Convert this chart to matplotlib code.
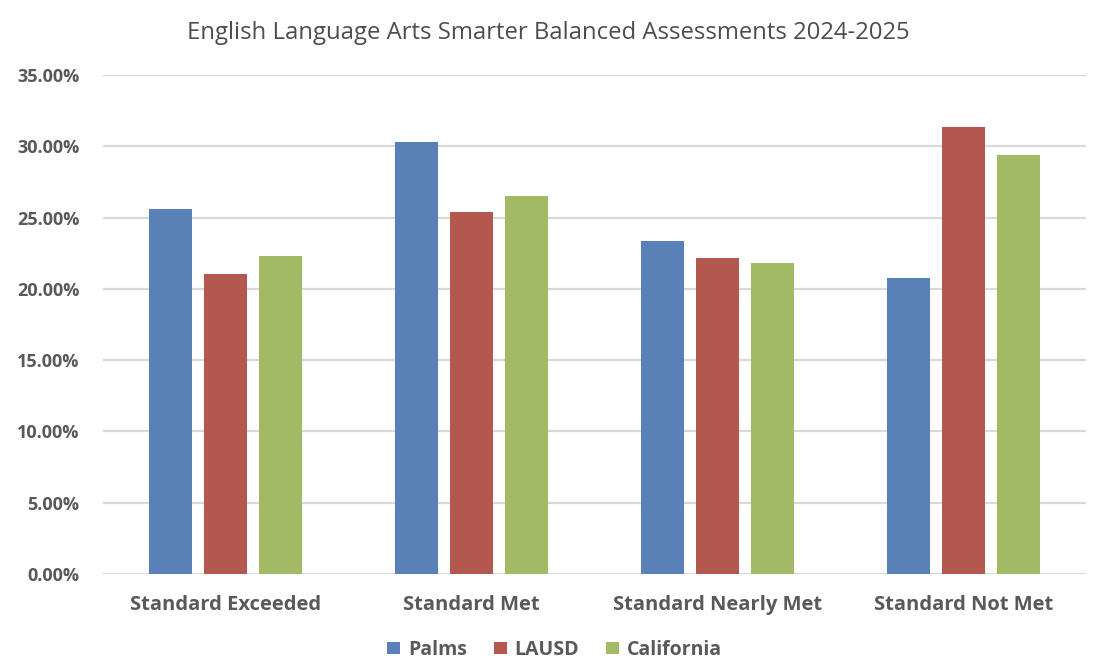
import numpy as np
import matplotlib
matplotlib.use("Agg")
import matplotlib.pyplot as plt
from matplotlib.ticker import FuncFormatter

categories = ["Standard Exceeded", "Standard Met", "Standard Nearly Met", "Standard Not Met"]
series_names = ["Palms", "LAUSD", "California"]
palms = [25.61, 30.33, 23.37, 20.77]
lausd = [21.05, 25.42, 22.17, 31.38]
california = [22.31, 26.54, 21.82, 29.42]
colors = ["#5A80B8", "#B3574F", "#A2BA64"]

plt.rcParams['font.family'] = ['Open Sans', 'DejaVu Sans']

fig = plt.figure(figsize=(10.96, 6.72), dpi=100)
ax = fig.add_axes([0.094, 0.146, 0.897, 0.742])

x = np.arange(len(categories))
width = 0.175
step = 0.224
for i, (vals, name) in enumerate(zip([palms, lausd, california], series_names)):
    ax.bar(x + (i - 1) * step, vals, width, color=colors[i], label=name, zorder=3)

ax.set_xlim(-0.5, 3.5)
ax.set_ylim(0, 35)
ax.set_yticks(np.arange(0, 35.1, 5))
ax.yaxis.set_major_formatter(FuncFormatter(lambda v, p: f"{v:.2f}%"))
ax.grid(axis='y', color='#D9D9D9', linewidth=1.6, zorder=0)
for s in ax.spines.values():
    s.set_visible(False)
ax.tick_params(length=0, colors='#595959', labelsize=14.5)
ax.tick_params(axis='y', pad=17, labelsize=13)
ax.tick_params(axis='x', pad=15)
ax.set_xticks(x)
ax.set_xticklabels(categories, fontweight='bold')
for t in ax.get_yticklabels():
    t.set_fontweight('bold')

fig.text(0.5, 0.951, "English Language Arts Smarter Balanced Assessments 2024-2025",
         ha='center', va='center', fontsize=17.2, color='#4D4D4D')

leg = fig.legend(loc='center', bbox_to_anchor=(0.506, 0.033), ncol=3, frameon=False,
                 handlelength=0.65, handleheight=0.65, handletextpad=0.4, columnspacing=1.4,
                 prop={'weight': 'bold', 'size': 14})
for t in leg.get_texts():
    t.set_color('#595959')

fig.savefig("out.png", dpi=100)
